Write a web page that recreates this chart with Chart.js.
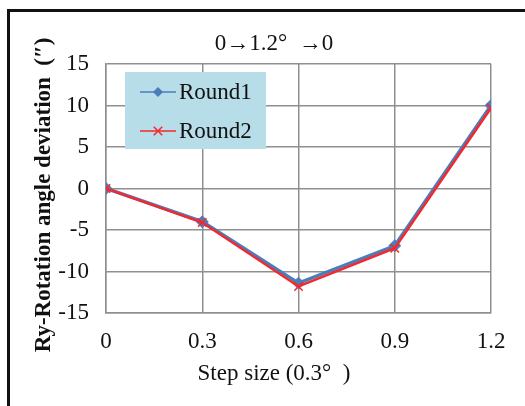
<!DOCTYPE html>
<html>
<head>
<meta charset="utf-8">
<script src="https://cdn.jsdelivr.net/npm/chart.js@4.4.1/dist/chart.umd.min.js"></script>
<style>
  html, body { margin: 0; padding: 0; background: #fff; }
  #wrap { position: relative; width: 525px; height: 406px; overflow: hidden; }
  #frame { position: absolute; left: 7px; top: 9px; width: 600px; height: 500px; border: 3px solid #111; box-sizing: border-box; }
  canvas { position: absolute; left: 0; top: 0; }
</style>
</head>
<body>
<div id="wrap">
  <div id="frame"></div>
  <canvas id="myChart" width="525" height="406"></canvas>
</div>
<script>
// data
let steps = [0, 0.3, 0.6, 0.9, 1.2];
let round1 = [0, -4, -11.4, -6.9, 10];
let round2 = [0, -4.1, -11.8, -7.2, 9.7];
let yTicks = [-15, -10, -5, 0, 5, 10, 15];

const serif = '"Liberation Serif", "Times New Roman", serif';

function points(values) {
  let out = [];
  for (let i = 0; i < steps.length; i++) {
    out.push({ x: steps[i], y: values[i] });
  }
  return out;
}

// title, axis titles and the legend box
const extras = {
  id: 'extras',
  afterDraw(chart) {
    const ctx = chart.ctx;
    const sets = chart.data.datasets;
    ctx.save();
    ctx.fillStyle = '#111';
    ctx.font = '23px ' + serif;
    ctx.textAlign = 'center';
    ctx.textBaseline = 'middle';
    ctx.fillText('0\u21921.2\u00b0  \u21920', 274, 44);
    ctx.fillText('Step size (0.3\u00b0  )', 274, 374);

    ctx.translate(44, 195);
    ctx.rotate(-Math.PI / 2);
    ctx.font = 'bold 23px ' + serif;
    ctx.fillText('Ry-Rotation angle deviation  (\u2033)', 0, 0);
    ctx.restore();

    // legend
    ctx.save();
    ctx.fillStyle = '#b7dde8';
    ctx.fillRect(125, 72, 141, 77);
    const rows = [92, 131];
    for (let i = 0; i < sets.length; i++) {
      const y = rows[i];
      ctx.strokeStyle = sets[i].borderColor;
      ctx.fillStyle = sets[i].borderColor;
      ctx.lineWidth = 1.5;
      ctx.beginPath();
      ctx.moveTo(140, y);
      ctx.lineTo(176, y);
      ctx.stroke();
      Chart.helpers.drawPoint(ctx, {
        pointStyle: sets[i].pointStyle,
        radius: sets[i].pointRadius,
        borderWidth: 1.5,
        rotation: 0
      }, 158, y);
      ctx.fillStyle = '#111';
      ctx.font = '23px ' + serif;
      ctx.textAlign = 'left';
      ctx.textBaseline = 'middle';
      ctx.fillText(sets[i].label, 179, y + 1);
    }
    ctx.restore();
  }
};

const ctx = document.getElementById('myChart').getContext('2d');
const chart = new Chart(ctx, {
  type: 'line',
  data: {
    datasets: [
      {
        label: 'Round1',
        data: points(round1),
        borderColor: '#4a7ebb',
        backgroundColor: '#4a7ebb',
        pointBackgroundColor: '#4a7ebb',
        borderWidth: 3.5,
        pointStyle: 'rectRot',
        pointRadius: 4,
        order: 2
      },
      {
        label: 'Round2',
        data: points(round2),
        borderColor: '#f5282d',
        backgroundColor: '#f5282d',
        borderWidth: 2.5,
        pointStyle: 'crossRot',
        pointRadius: 6,
        pointBorderWidth: 1.5,
        order: 1
      }
    ]
  },
  options: {
    responsive: false,
    animation: false,
    layout: { padding: { top: 64, right: 34, left: 0, bottom: 0 } },
    plugins: {
      legend: { display: false },
      title: { display: false },
      tooltip: { enabled: false }
    },
    scales: {
      x: {
        type: 'linear',
        min: 0,
        max: 1.2,
        afterFit(scale) { scale.height = 93; },
        afterBuildTicks(scale) { scale.ticks = steps.map(v => ({ value: v })); },
        ticks: {
          color: '#111',
          font: { family: serif, size: 23 },
          padding: 15,
          maxRotation: 0,
          callback: (v) => (v === 0 ? '0' : v.toFixed(1))
        },
        grid: { color: '#8f8f8f', lineWidth: 1.5, drawTicks: false },
        border: { color: '#8f8f8f', width: 1.5 }
      },
      y: {
        min: -15,
        max: 15,
        afterFit(scale) { scale.width = 106; },
        afterBuildTicks(scale) { scale.ticks = yTicks.map(v => ({ value: v })); },
        ticks: {
          color: '#111',
          font: { family: serif, size: 23 },
          padding: 17
        },
        grid: { color: '#8f8f8f', lineWidth: 1.5, drawTicks: false },
        border: { color: '#8f8f8f', width: 1.5 }
      }
    }
  },
  plugins: [extras]
});
</script>
</body>
</html>
